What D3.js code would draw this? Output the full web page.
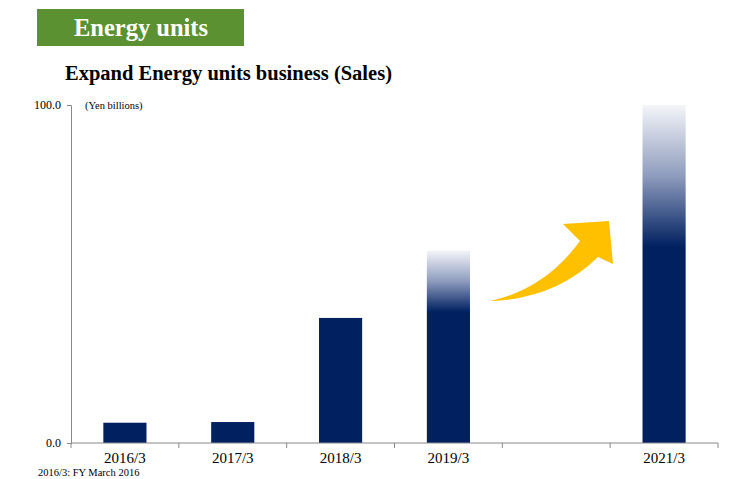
<!DOCTYPE html>
<html><head><meta charset="utf-8">
<script src="https://cdn.jsdelivr.net/npm/d3@7"></script>
<style>
html,body{margin:0;padding:0;background:#fff;}
svg{display:block;}
svg text{font-family:"Liberation Serif","Times New Roman",serif !important;}
</style></head>
<body><svg id="c" width="750" height="479"></svg>
<script>
const categories = ["2016/3","2017/3","2018/3","2019/3","2020/3","2021/3"];
const categoryLabels = ["2016/3","2017/3","2018/3","2019/3","","2021/3"];
const sales = [6.0, 6.2, 37.0, 57.0, null, 100.0];
const projected = [false, false, false, true, false, true];
const fadeFraction = [0, 0, 0, 0.32, 0, 0.42];
const yTicks = [0, 100];

const svg = d3.select("#c");
const m = {left:71, right:718, top:105, bottom:443};
const x = d3.scaleBand().domain(categories).range([m.left, m.right]).paddingInner(0.6).paddingOuter(0.3);
const y = d3.scaleLinear().domain([0,100]).range([m.bottom, m.top]);
const navy = "#002060";

// header
svg.append("rect").attr("x",37).attr("y",9).attr("width",207).attr("height",37).attr("fill","#5b9131");
svg.append("text").attr("x",141).attr("y",36).attr("text-anchor","middle").attr("fill","#fff")
  .attr("font-size",24.5).attr("font-weight","bold").text("Energy units");
svg.append("text").attr("x",65).attr("y",80).attr("fill","#000")
  .attr("font-size",20.5).attr("font-weight","bold").text("Expand Energy units business (Sales)");

// gradients
const defs = svg.append("defs");
sales.forEach((v,i)=>{
  if(!projected[i]) return;
  const g = defs.append("linearGradient").attr("id","g"+i).attr("x1",0).attr("y1",0).attr("x2",0).attr("y2",1);
  g.append("stop").attr("offset",0).attr("stop-color","#f4f5f9");
  g.append("stop").attr("offset",fadeFraction[i]*0.5).attr("stop-color","#8e9cbd");
  g.append("stop").attr("offset",fadeFraction[i]).attr("stop-color",navy);
  g.append("stop").attr("offset",1).attr("stop-color",navy);
});

// bars
svg.append("g").selectAll("rect").data(categories.map((c,i)=>({c,v:sales[i],i})).filter(d=>d.v!=null))
  .join("rect")
  .attr("x",d=>x(d.c)).attr("width",x.bandwidth())
  .attr("y",d=>y(d.v)).attr("height",d=>y(0)-y(d.v))
  .attr("fill",d=>projected[d.i]?`url(#g${d.i})`:navy);

// y axis
const ya = svg.append("g").attr("transform",`translate(${m.left},0)`)
  .call(d3.axisLeft(y).tickValues(yTicks).tickSize(4).tickPadding(6).tickFormat(d3.format(".1f")));
ya.attr("font-family",null);
ya.select(".domain").attr("stroke","#888");
ya.selectAll(".tick line").attr("stroke","#888");
ya.selectAll("text").attr("font-size",12).attr("fill","#000");

// x axis line & boundary ticks
const step = x.step();
const bounds = d3.range(categories.length+1).map(i=> m.left + i*step);
svg.append("line").attr("x1",m.left).attr("x2",m.right).attr("y1",y(0)).attr("y2",y(0)).attr("stroke","#888");
svg.append("g").selectAll("line").data(bounds).join("line")
  .attr("x1",d=>d).attr("x2",d=>d).attr("y1",y(0)).attr("y2",y(0)+5).attr("stroke","#888");

const xa = svg.append("g").attr("transform",`translate(0,${m.bottom})`)
  .call(d3.axisBottom(x).tickSize(0).tickPadding(9).tickFormat((d,i)=>categoryLabels[i]));
xa.attr("font-family",null);
xa.select(".domain").remove();
xa.selectAll("text").attr("font-size",15).attr("fill","#000");

svg.append("text").attr("x",85).attr("y",109).attr("font-size",10.5).attr("fill","#000").text("(Yen billions)");
svg.append("text").attr("x",38).attr("y",476).attr("font-size",10.5).attr("fill","#000").text("2016/3: FY March 2016");

// arrow annotation, anchored between 2019/3 and 2021/3
const ax = x("2019/3")+x.bandwidth()+20, ay = y(42);
const arrow = `M${ax},${ay} Q${ax+55},${ay-12} ${ax+90},${ay-60} L${ax+73},${ay-77} L${ax+119},${ay-80} L${ax+123},${ay-37} L${ax+108},${ay-44} Q${ax+65},${ay-2} ${ax},${ay} Z`;
svg.append("path").attr("d",arrow).attr("fill","#ffc000");
</script></body></html>
